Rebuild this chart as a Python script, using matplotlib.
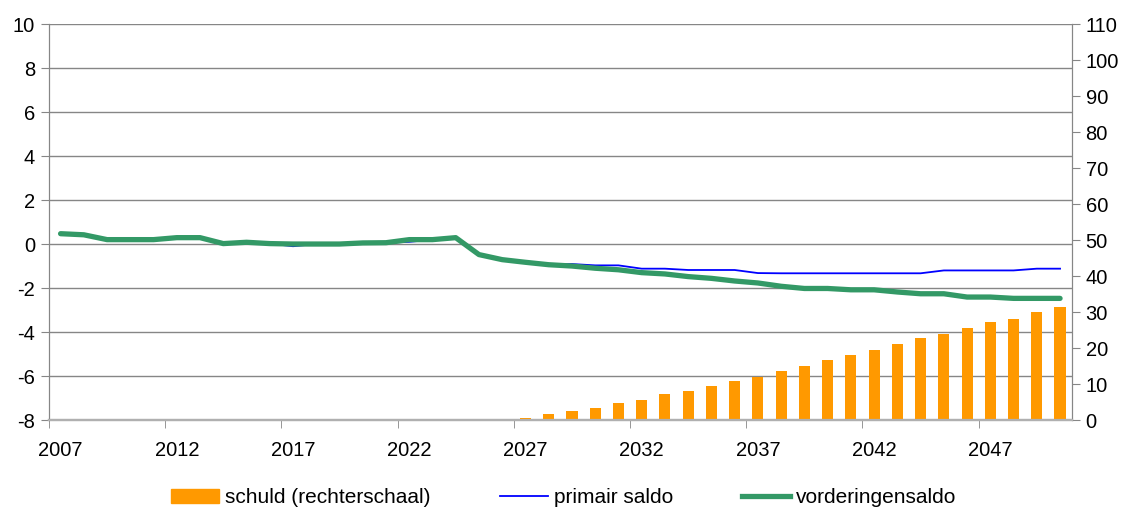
import numpy as np
import matplotlib
matplotlib.use('Agg')
import matplotlib.pyplot as plt
from matplotlib.patches import Patch
from matplotlib.lines import Line2D

plt.rcParams['font.family'] = ['Liberation Sans', 'DejaVu Sans']
plt.rcParams['axes.unicode_minus'] = False

### data
years = list(range(2007, 2051))

vorderingensaldo = [0.47, 0.42, 0.2, 0.2, 0.2, 0.29, 0.29, 0.02, 0.08, 0.02,
                    0.0, 0.0, 0.0, 0.05, 0.06, 0.2, 0.2, 0.29,
                    -0.48, -0.71, -0.83, -0.94, -1.0, -1.1, -1.17, -1.3, -1.36,
                    -1.48, -1.56, -1.68, -1.77,
                    -1.92, -2.02, -2.02, -2.08, -2.08, -2.18, -2.26, -2.26,
                    -2.41, -2.41, -2.47, -2.47, -2.47]

primair_saldo = [0.47, 0.42, 0.2, 0.2, 0.2, 0.29, 0.29, 0.02, 0.08, 0.02,
                 -0.1, 0.0, 0.0, 0.05, 0.06, 0.1, 0.2, 0.29,
                 -0.48, -0.71, -0.83,
                 -0.94, -0.91, -0.97, -0.97, -1.12, -1.12, -1.18, -1.18, -1.18, -1.32,
                 -1.33, -1.33, -1.33, -1.33, -1.33, -1.33, -1.33,
                 -1.2, -1.2, -1.2, -1.2, -1.12, -1.12]

schuld = [0] * 20 + [0.46, 1.57, 2.4, 3.24, 4.63, 5.46, 7.13, 7.96, 9.35, 10.74,
                     11.85, 13.5, 14.9, 16.6, 18.0, 19.4, 21.0, 22.7, 23.8, 25.5,
                     27.1, 28.2, 29.9, 31.3]

left_ticks = list(range(-8, 11, 2))
right_ticks = list(range(0, 111, 10))

ORANGE = '#FF9900'
BLUE = '#0000FF'
GREEN = '#339966'
GRID = '#868686'

### figure
fig = plt.figure(figsize=(11.23, 5.11), dpi=100)
ax = fig.add_axes([0.0436, 0.178, 0.9107, 0.775])
ax2 = ax.twinx()

x = np.arange(len(years))

ax.plot(x, primair_saldo, color=BLUE, lw=1.3, zorder=3)
ax.plot(x, vorderingensaldo, color=GREEN, lw=3.8, solid_capstyle='round', zorder=4)
ax2.bar(x, schuld, width=0.48, color=ORANGE, zorder=2)

# limits
ax.set_xlim(-0.5, len(years) - 0.5)
ax.set_ylim(-8, 10)
ax2.set_ylim(0, 110)
ax.set_yticks(left_ticks)
ax2.set_yticks(right_ticks)

# x ticks: labels every 5 years, tick marks on category boundaries
ax.set_xticks(x[::5])
ax.set_xticklabels([str(y) for y in years[::5]])
ax.set_xticks(np.arange(-0.5, len(years), 5), minor=True)
ax.tick_params(axis='x', which='major', length=0, pad=15, labelsize=14.5)
ax.tick_params(axis='x', which='minor', length=6, color=GRID, direction='out')

ax.tick_params(axis='y', length=6, color=GRID, labelsize=14.5, pad=4)
ax2.tick_params(axis='y', length=6, color=GRID, labelsize=14.5, pad=4)

# grid
ax.grid(axis='y', color=GRID, lw=1)
ax.set_axisbelow(True)

for a in (ax, ax2):
    a.spines['top'].set_visible(False)
    a.spines['left'].set_color(GRID)
    a.spines['right'].set_color(GRID)
    a.spines['bottom'].set_color('#b0b0b0')
    a.spines['bottom'].set_linewidth(1.6)

# legend
handles = [Patch(color=ORANGE),
           Line2D([0], [0], color=BLUE, lw=1.3),
           Line2D([0], [0], color=GREEN, lw=3.8)]
labels = ['schuld (rechterschaal)', 'primair saldo', 'vorderingensaldo']
fig.legend(handles, labels, loc='center', bbox_to_anchor=(0.502, 0.026), ncol=3,
           frameon=False, fontsize=15, handlelength=2.3, handleheight=0.7,
           columnspacing=3.3, handletextpad=0.3)

fig.savefig('out.png', dpi=100)
